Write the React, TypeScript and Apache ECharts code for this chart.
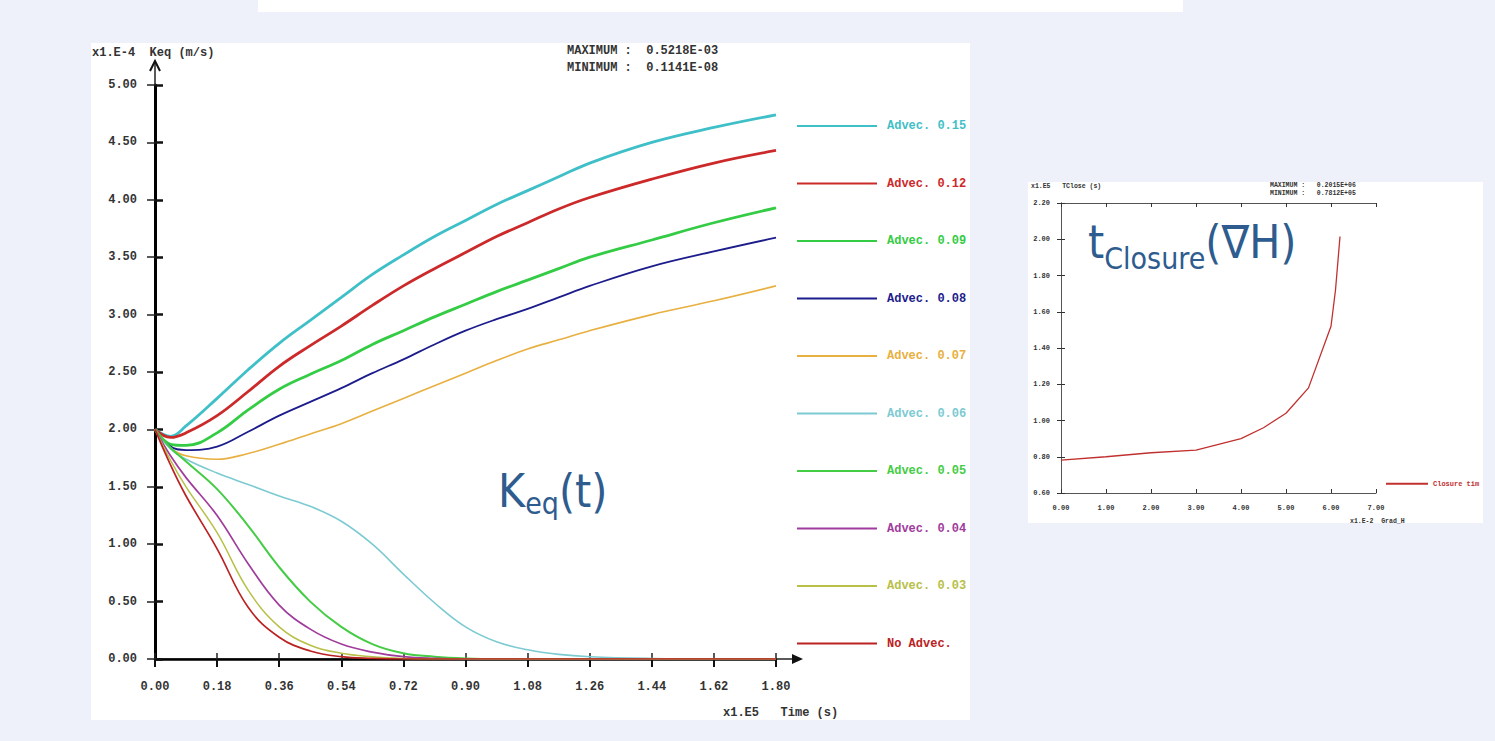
import React, { useEffect, useRef } from "react";
import * as echarts from "echarts";

// ---------- Main chart data: Keq(t), x in 1e5 s, y in 1e-4 m/s ----------
const timeX = [0, 0.045, 0.09, 0.18, 0.27, 0.36, 0.45, 0.54, 0.63, 0.72, 0.81, 0.9, 0.99, 1.08, 1.17, 1.26, 1.44, 1.62, 1.8];

const adv015 = [2.0, 1.94, 2.03, 2.27, 2.52, 2.75, 2.95, 3.15, 3.35, 3.52, 3.68, 3.82, 3.96, 4.08, 4.2, 4.32, 4.5, 4.63, 4.74];
const adv012 = [2.0, 1.93, 1.97, 2.12, 2.33, 2.55, 2.73, 2.9, 3.08, 3.25, 3.4, 3.54, 3.68, 3.8, 3.92, 4.02, 4.18, 4.32, 4.43];
const adv009 = [2.0, 1.87, 1.86, 1.97, 2.17, 2.35, 2.48, 2.6, 2.74, 2.86, 2.98, 3.09, 3.2, 3.3, 3.4, 3.5, 3.65, 3.8, 3.93];
const adv008 = [2.0, 1.85, 1.82, 1.85, 1.98, 2.12, 2.24, 2.36, 2.49, 2.61, 2.74, 2.86, 2.96, 3.05, 3.15, 3.25, 3.42, 3.55, 3.67];
const adv007 = [2.0, 1.84, 1.77, 1.74, 1.79, 1.87, 1.96, 2.05, 2.16, 2.27, 2.38, 2.49, 2.6, 2.7, 2.78, 2.86, 3.0, 3.12, 3.25];
const adv006 = [2.0, 1.83, 1.74, 1.62, 1.52, 1.42, 1.33, 1.2, 1.0, 0.74, 0.49, 0.28, 0.15, 0.08, 0.04, 0.02, 0.005, 0, 0];
const adv005 = [2.0, 1.84, 1.72, 1.48, 1.16, 0.8, 0.5, 0.28, 0.13, 0.05, 0.02, 0.005, 0, 0, 0, 0, 0, 0, 0];
const adv004 = [2.0, 1.77, 1.58, 1.25, 0.83, 0.47, 0.26, 0.13, 0.06, 0.02, 0.005, 0, 0, 0, 0, 0, 0, 0, 0];
const adv003 = [2.0, 1.73, 1.5, 1.1, 0.6, 0.28, 0.12, 0.05, 0.02, 0.005, 0, 0, 0, 0, 0, 0, 0, 0, 0];
const noAdvec = [2.0, 1.69, 1.42, 0.96, 0.45, 0.19, 0.07, 0.02, 0.005, 0, 0, 0, 0, 0, 0, 0, 0, 0, 0];

const seriesNames = [
  "Advec. 0.15",
  "Advec. 0.12",
  "Advec. 0.09",
  "Advec. 0.08",
  "Advec. 0.07",
  "Advec. 0.06",
  "Advec. 0.05",
  "Advec. 0.04",
  "Advec. 0.03",
  "No Advec.",
];
const seriesValues = [adv015, adv012, adv009, adv008, adv007, adv006, adv005, adv004, adv003, noAdvec];

// ---------- Small chart data: closure time vs grad H ----------
const gradX = [0, 1, 2, 3, 4, 4.5, 5, 5.5, 6, 6.1, 6.2];
const closureTime = [0.781, 0.8, 0.822, 0.837, 0.9, 0.96, 1.04, 1.18, 1.52, 1.72, 2.015];
const closureName = "Closure time";

// ---------- styles ----------
const seriesColors = ["#3fbfc7", "#cc2a2a", "#33cc44", "#1c1c8c", "#e8b040", "#7ccad2", "#44cc44", "#a03c9c", "#b8c048", "#bb2222"];
const seriesWidths = [2.8, 2.8, 2.8, 1.8, 1.6, 1.6, 2.0, 1.7, 1.5, 1.7];
const MONO = '"Liberation Mono", "DejaVu Sans Mono", monospace';
const ANN = '"DejaVu Sans Condensed", "DejaVu Sans", sans-serif';
const ANN_COLOR = "#2e5c8e";

function measure(text: string, font: string): number {
  const c = document.createElement("canvas").getContext("2d");
  if (!c) return text.length * 20;
  c.font = font;
  return c.measureText(text).width;
}

export default function App() {
  const ref = useRef<HTMLDivElement>(null);

  useEffect(() => {
    if (!ref.current) return;
    const chart = echarts.init(ref.current, undefined, { renderer: "svg" });

    const bigFont = `46px ${ANN}`;
    const subFont = `30px ${ANN}`;
    const kX = 498;
    const kW = measure("K", bigFont);
    const eqW = measure("eq", subFont);
    const tX = 1088;
    const tW = measure("t", bigFont);
    const clW = measure("Closure", subFont);

    const labelStyle = { fontFamily: MONO, fontWeight: "bold" as const, fontSize: 12, color: "#333" };
    const smallLabel = { fontFamily: MONO, fontWeight: "bold" as const, fontSize: 7, color: "#333" };
    const hiddenSymbol = { color: "transparent", borderColor: "transparent", borderWidth: 0, opacity: 0 };

    const txt = (x: number, y: number, text: string, size: number, fill = "#333", align = "left") => ({
      type: "text",
      x,
      y,
      z: 50,
      style: { text, font: `bold ${size}px ${MONO}`, fill, align, verticalAlign: "middle" },
    });

    const option: any = {
      animation: false,
      backgroundColor: "#eef0fa",
      grid: [
        { left: 155, top: 85, width: 621, height: 574, containLabel: false },
        { left: 1061, top: 203, width: 315, height: 290, containLabel: false },
      ],
      xAxis: [
        {
          type: "value", gridIndex: 0, min: 0, max: 1.8, interval: 0.18, position: "bottom",
          axisLine: { show: true, lineStyle: { color: "#555", width: 1.5 } },
          axisTick: { show: true, inside: true, length: 6, lineStyle: { color: "#222", width: 1.5 } },
          axisLabel: { ...labelStyle, margin: 22, formatter: (v: number) => v.toFixed(2) },
          splitLine: { show: false },
        },
        {
          type: "value", gridIndex: 0, min: 0, max: 1.8, interval: 0.18, position: "top",
          axisLine: { show: true, lineStyle: { color: "#000", width: 2.5 } },
          axisTick: { show: true, inside: true, length: 8, lineStyle: { color: "#111", width: 2 } },
          axisLabel: { show: false },
          splitLine: { show: false },
        },
        {
          type: "value", gridIndex: 1, min: 0, max: 7, interval: 1, position: "bottom",
          axisLine: { show: true, lineStyle: { color: "#555", width: 1 } },
          axisTick: { show: true, inside: true, length: 4, lineStyle: { color: "#333", width: 1 } },
          axisLabel: { ...smallLabel, margin: 11, formatter: (v: number) => v.toFixed(2) },
          splitLine: { show: false },
        },
        {
          type: "value", gridIndex: 1, min: 0, max: 7, interval: 1, position: "top",
          axisLine: { show: true, lineStyle: { color: "#555", width: 1 } },
          axisTick: { show: true, inside: true, length: 4, lineStyle: { color: "#333", width: 1 } },
          axisLabel: { show: false },
          splitLine: { show: false },
        },
      ],
      yAxis: [
        {
          type: "value", gridIndex: 0, min: 0, max: 5, interval: 0.5, position: "left",
          axisLine: { show: true, lineStyle: { color: "#555", width: 1.5 } },
          axisTick: { show: true, inside: true, length: 8, lineStyle: { color: "#111", width: 2.5 } },
          axisLabel: { ...labelStyle, margin: 18, formatter: (v: number) => v.toFixed(2) },
          splitLine: { show: false },
        },
        {
          type: "value", gridIndex: 0, min: 0, max: 5, interval: 0.5, position: "right",
          axisLine: { show: true, lineStyle: { color: "#000", width: 3 } },
          axisTick: { show: true, inside: true, length: 8, lineStyle: { color: "#222", width: 1.5 } },
          axisLabel: { show: false },
          splitLine: { show: false },
        },
        {
          type: "value", gridIndex: 1, min: 0.6, max: 2.2, interval: 0.2, position: "left",
          axisLine: { show: true, lineStyle: { color: "#555", width: 1 } },
          axisTick: { show: true, inside: true, length: 4, lineStyle: { color: "#333", width: 1 } },
          axisLabel: { ...smallLabel, margin: 11, formatter: (v: number) => v.toFixed(2) },
          splitLine: { show: false },
        },
        {
          type: "value", gridIndex: 1, min: 0.6, max: 2.2, interval: 0.2, position: "right",
          axisLine: { show: true, lineStyle: { color: "#555", width: 1 } },
          axisTick: { show: true, inside: true, length: 4, lineStyle: { color: "#333", width: 1 } },
          axisLabel: { show: false },
          splitLine: { show: false },
        },
      ],
      legend: [
        {
          orient: "vertical",
          left: 791,
          top: 114,
          itemWidth: 80,
          itemHeight: 14,
          itemGap: 43.5,
          selectedMode: false,
          itemStyle: hiddenSymbol,
          textStyle: { fontFamily: MONO, fontWeight: "bold", fontSize: 12, lineHeight: 14, padding: [0, 0, 0, 5] },
          data: seriesNames.map((n, i) => ({ name: n, textStyle: { color: seriesColors[i] } })),
        },
        {
          orient: "vertical",
          left: 1380,
          top: 474,
          itemWidth: 42,
          itemHeight: 12,
          selectedMode: false,
          itemStyle: hiddenSymbol,
          textStyle: { fontFamily: MONO, fontWeight: "bold", fontSize: 7, color: "#c0302f", width: 48, overflow: "truncate", ellipsis: "" },
          data: [closureName],
        },
      ],
      series: [
        ...seriesNames.map((name, i) => ({
          name,
          type: "line",
          xAxisIndex: 0,
          yAxisIndex: 0,
          symbol: "none",
          smooth: 0.4,
          z: 5,
          color: seriesColors[i],
          lineStyle: { color: seriesColors[i], width: seriesWidths[i] },
          data: timeX.map((t, k) => [t, seriesValues[i][k]]),
        })),
        {
          name: closureName,
          type: "line",
          xAxisIndex: 2,
          yAxisIndex: 2,
          symbol: "none",
          color: "#c0302f",
          lineStyle: { color: "#c0302f", width: 1.3 },
          data: gradX.map((g, k) => [g, closureTime[k]]),
        },
      ],
      graphic: [
        { type: "rect", z: -10, shape: { x: 258, y: 0, width: 925, height: 12 }, style: { fill: "#ffffff" } },
        { type: "rect", z: -10, shape: { x: 91, y: 43, width: 879, height: 677 }, style: { fill: "#ffffff" } },
        { type: "rect", z: -10, shape: { x: 1028, y: 182, width: 455, height: 341 }, style: { fill: "#ffffff" } },
        // axis arrows (main chart)
        { type: "line", z: 40, shape: { x1: 155, y1: 85, x2: 155, y2: 62 }, style: { stroke: "#222", lineWidth: 1.5 } },
        { type: "polyline", z: 40, shape: { points: [[150, 71], [155, 61], [160, 71]] }, style: { stroke: "#111", lineWidth: 2, fill: null } },
        { type: "line", z: 40, shape: { x1: 776, y1: 659, x2: 798, y2: 659 }, style: { stroke: "#222", lineWidth: 1.5 } },
        { type: "polygon", z: 40, shape: { points: [[792, 654], [803, 659], [792, 664]] }, style: { fill: "#111" } },
        // headers
        txt(92, 53, "x1.E-4  Keq (m/s)", 12),
        txt(567, 51, "MAXIMUM :  0.5218E-03", 12),
        txt(567, 68, "MINIMUM :  0.1141E-08", 12),
        txt(723, 713, "x1.E5   Time (s)", 12),
        txt(1031, 186, "x1.E5   TClose (s)", 6.5),
        txt(1270, 185, "MAXIMUM :   0.2015E+06", 6.5),
        txt(1270, 193, "MINIMUM :   0.7812E+05", 6.5),
        txt(1350, 521, "x1.E-2  Grad_H", 6.5),
        // annotations
        { type: "text", z: 60, x: kX, y: 491, style: { text: "K", font: bigFont, fill: ANN_COLOR, verticalAlign: "middle" } },
        { type: "text", z: 60, x: kX + kW, y: 503, style: { text: "eq", font: subFont, fill: ANN_COLOR, verticalAlign: "middle" } },
        { type: "text", z: 60, x: kX + kW + eqW, y: 491, style: { text: "(t)", font: bigFont, fill: ANN_COLOR, verticalAlign: "middle" } },
        { type: "text", z: 60, x: tX, y: 242, style: { text: "t", font: bigFont, fill: ANN_COLOR, verticalAlign: "middle" } },
        { type: "text", z: 60, x: tX + tW, y: 258, style: { text: "Closure", font: subFont, fill: ANN_COLOR, verticalAlign: "middle" } },
        { type: "text", z: 60, x: tX + tW + clW, y: 242, style: { text: "(\u2207H)", font: bigFont, fill: ANN_COLOR, verticalAlign: "middle" } },
      ],
    };

    chart.setOption(option);
    return () => chart.dispose();
  }, []);

  return (
    <div style={{ position: "fixed", left: 0, top: 0, width: 1495, height: 741 }}>
      <div ref={ref} style={{ width: 1495, height: 741 }} />
    </div>
  );
}
